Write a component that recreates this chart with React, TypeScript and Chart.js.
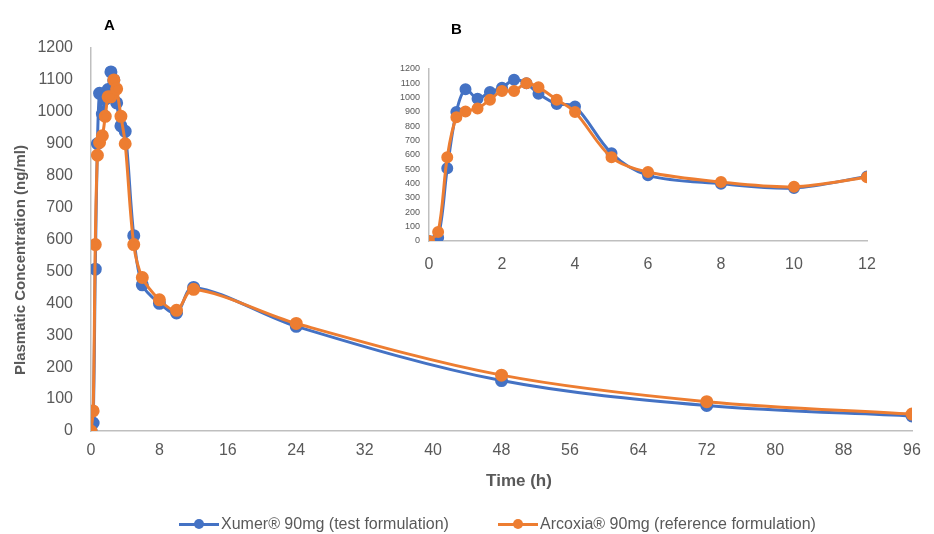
import React, { useEffect, useRef } from "react";
import { Chart, registerables } from "chart.js";
Chart.register(...registerables);

const times = [0, 0.25, 0.5, 0.75, 1, 1.33, 1.67, 2, 2.33, 2.67, 3, 3.5, 4, 5, 6, 8, 10, 12, 24, 48, 72, 96];
const xumer = [0, 25, 507, 900, 1058, 993, 1040, 1070, 1125, 1100, 1028, 956, 939, 612, 458, 400, 370, 450, 328, 158, 80, 47];
const arcoxia = [0, 63, 584, 864, 904, 925, 986, 1047, 1047, 1100, 1072, 986, 900, 584, 481, 411, 378, 444, 337, 175, 92, 53];
const seriesNames = ["Xumer® 90mg (test formulation)", "Arcoxia® 90mg (reference formulation)"];
const yAxisTitle = "Plasmatic Concentration (ng/ml)";
const xAxisTitle = "Time (h)";
const insetMaxTime = 12;

const BLUE = "#4472C4";
const ORANGE = "#ED7D31";
const GREY = "#595959";
const AXIS = "#bfbfbf";
const FONT = "'Liberation Sans', Arial, sans-serif";

function pts(vals: number[], maxT = Infinity) {
  const out: { x: number; y: number }[] = [];
  times.forEach((t, i) => {
    if (t <= maxT) out.push({ x: t, y: vals[i] });
  });
  return out;
}

function datasets(maxT: number, radius: number, width: number) {
  return [
    {
      label: seriesNames[1],
      data: pts(arcoxia, maxT),
      borderColor: ORANGE,
      backgroundColor: ORANGE,
      pointRadius: radius,
      borderWidth: width,
      tension: 0.33,
    },
    {
      label: seriesNames[0],
      data: pts(xumer, maxT),
      borderColor: BLUE,
      backgroundColor: BLUE,
      pointRadius: radius,
      borderWidth: width,
      tension: 0.33,
    },
  ];
}

const plain = (v: any) => String(v);

export default function App() {
  const mainRef = useRef<HTMLCanvasElement>(null);
  const insetRef = useRef<HTMLCanvasElement>(null);

  useEffect(() => {
    const main = new Chart(mainRef.current!, {
      type: "line",
      data: { datasets: datasets(Infinity, 5, 3) as any },
      options: {
        responsive: false,
        animation: false,
        layout: { padding: { left: 0, right: 22, top: 48, bottom: 0 } },
        plugins: { legend: { display: false }, tooltip: { enabled: false } },
        scales: {
          x: {
            type: "linear",
            min: 0,
            max: 96,
            ticks: { stepSize: 8, padding: 10, color: GREY, font: { size: 16, family: FONT }, callback: plain },
            grid: { display: false, drawTicks: false },
            border: { display: true, color: AXIS, width: 1.5 },
            afterFit: (s: any) => {
              s.height = 103;
            },
          },
          y: {
            min: 0,
            max: 1200,
            ticks: { stepSize: 100, padding: 18, color: GREY, font: { size: 16, family: FONT }, callback: plain },
            grid: { display: false, drawTicks: false },
            border: { display: true, color: AXIS, width: 1.5 },
            afterFit: (s: any) => {
              s.width = 91;
            },
          },
        },
      } as any,
    });

    const inset = new Chart(insetRef.current!, {
      type: "line",
      data: { datasets: datasets(insetMaxTime, 4.5, 3) as any },
      options: {
        responsive: false,
        animation: false,
        layout: { padding: { left: 0, right: 33, top: 19, bottom: 0 } },
        plugins: { legend: { display: false }, tooltip: { enabled: false } },
        scales: {
          x: {
            type: "linear",
            min: 0,
            max: insetMaxTime,
            ticks: { stepSize: 2, padding: 14, color: GREY, font: { size: 16, family: FONT }, callback: plain },
            grid: { display: false, drawTicks: false },
            border: { display: true, color: AXIS, width: 1.5 },
            afterFit: (s: any) => {
              s.height = 39;
            },
          },
          y: {
            min: 0,
            max: 1200,
            ticks: { stepSize: 100, padding: 9, color: GREY, font: { size: 9, family: FONT }, callback: plain },
            grid: { display: false, drawTicks: false },
            border: { display: true, color: AXIS, width: 1.5 },
            afterFit: (s: any) => {
              s.width = 49;
            },
          },
        },
      } as any,
    });

    return () => {
      main.destroy();
      inset.destroy();
    };
  }, []);

  const marker = (color: string) => (
    <span style={{ position: "relative", display: "inline-block", width: 40, height: 14, marginRight: 2 }}>
      <span style={{ position: "absolute", left: 0, top: 5.5, width: 40, height: 3, background: color }} />
      <span
        style={{
          position: "absolute",
          left: 15,
          top: 2,
          width: 10,
          height: 10,
          borderRadius: "50%",
          background: color,
        }}
      />
    </span>
  );

  const legendItem = (color: string, text: string, left: number) => (
    <div
      style={{
        position: "absolute",
        left,
        top: 515,
        display: "flex",
        alignItems: "center",
        fontSize: 16,
        color: GREY,
        whiteSpace: "nowrap",
      }}
    >
      {marker(color)}
      <span>{text}</span>
    </div>
  );

  return (
    <div
      style={{
        position: "absolute",
        left: 0,
        top: 0,
        width: 934,
        height: 534,
        background: "#fff",
        fontFamily: FONT,
        overflow: "hidden",
      }}
    >
      <canvas ref={mainRef} width={934} height={534} style={{ position: "absolute", left: 0, top: 0 }} />
      <canvas ref={insetRef} width={520} height={230} style={{ position: "absolute", left: 380, top: 50 }} />
      <div style={{ position: "absolute", left: 104, top: 16, fontWeight: "bold", fontSize: 15, color: "#000" }}>A</div>
      <div style={{ position: "absolute", left: 451, top: 20, fontWeight: "bold", fontSize: 15, color: "#000" }}>B</div>
      <div
        style={{
          position: "absolute",
          left: -130,
          top: 250,
          width: 300,
          height: 20,
          lineHeight: "20px",
          textAlign: "center",
          transform: "rotate(-90deg)",
          fontWeight: "bold",
          fontSize: 15,
          color: GREY,
          whiteSpace: "nowrap",
        }}
      >
        {yAxisTitle}
      </div>
      <div
        style={{
          position: "absolute",
          left: 419,
          top: 470,
          width: 200,
          height: 22,
          lineHeight: "22px",
          textAlign: "center",
          fontWeight: "bold",
          fontSize: 17,
          color: GREY,
          whiteSpace: "nowrap",
        }}
      >
        {xAxisTitle}
      </div>
      {legendItem(BLUE, seriesNames[0], 179)}
      {legendItem(ORANGE, seriesNames[1], 498)}
    </div>
  );
}
